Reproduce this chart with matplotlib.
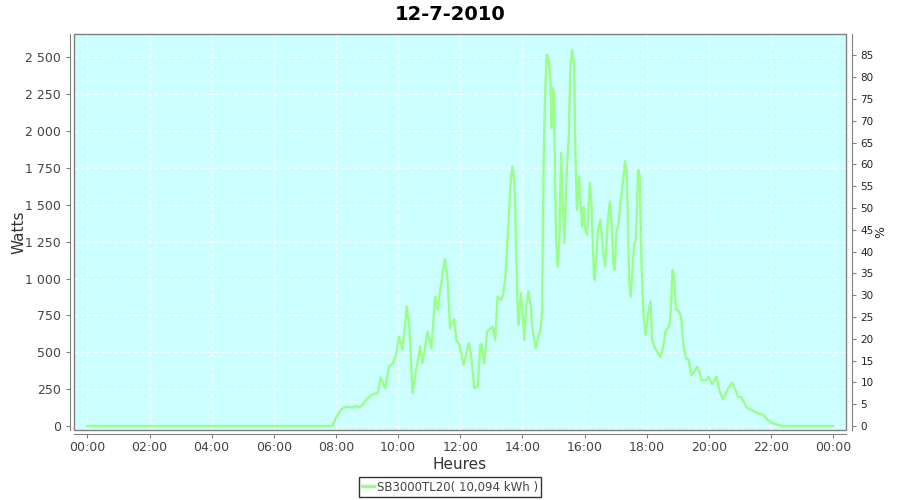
import matplotlib

matplotlib.use("Agg")
import matplotlib.pyplot as plt
from matplotlib.patches import Rectangle

# power curve, time in hours of day, values in watts
hours = [0.0, 7.85, 7.89, 7.99, 8.15, 8.26, 8.42, 8.53, 8.64, 8.74, 8.85, 9.01, 9.18, 9.34,
         9.44, 9.58, 9.71, 9.82, 9.93, 10.03, 10.14, 10.28, 10.36, 10.46, 10.56, 10.71,
         10.78, 10.95, 11.07, 11.19, 11.27, 11.34, 11.50, 11.59, 11.67, 11.80, 11.88,
         11.96, 12.11, 12.27, 12.34, 12.45, 12.56, 12.64, 12.68, 12.77, 12.86, 12.93,
         13.04, 13.12, 13.20, 13.31, 13.38, 13.45, 13.54, 13.63, 13.68, 13.74, 13.79,
         13.85, 13.87, 13.95, 14.01, 14.06, 14.12, 14.19, 14.27, 14.32, 14.43, 14.54,
         14.58, 14.63, 14.68, 14.72, 14.78, 14.84, 14.90, 14.93, 14.95, 14.97, 15.01,
         15.05, 15.08, 15.13, 15.19, 15.24, 15.29, 15.35, 15.42, 15.49, 15.54, 15.60,
         15.66, 15.70, 15.75, 15.82, 15.87, 15.92, 15.97, 16.02, 16.08, 16.17, 16.22,
         16.30, 16.33, 16.43, 16.51, 16.60, 16.66, 16.74, 16.81, 16.87, 16.92, 16.96,
         17.03, 17.08, 17.15, 17.24, 17.30, 17.35, 17.39, 17.43, 17.48, 17.54, 17.59,
         17.65, 17.72, 17.77, 17.83, 17.89, 17.94, 17.97, 18.04, 18.12, 18.17, 18.24,
         18.33, 18.44, 18.53, 18.60, 18.71, 18.76, 18.83, 18.88, 18.94, 19.01, 19.10,
         19.17, 19.26, 19.35, 19.43, 19.50, 19.62, 19.70, 19.76, 19.92, 19.99, 20.10,
         20.24, 20.35, 20.45, 20.62, 20.75, 20.83, 20.94, 21.05, 21.21, 21.37, 21.53,
         21.75, 21.86, 22.02, 22.24, 22.35, 24.0]
watts = [0, 0, 5, 52, 109, 127, 131, 124, 136, 127, 143, 188, 215, 222,
         330, 256, 407, 421, 482, 606, 516, 810, 674, 222, 358, 538,
         426, 640, 527, 878, 787, 901, 1132, 991, 663, 724, 572,
         561, 414, 561, 493, 256, 267, 550, 557, 426, 640, 652,
         674, 584, 878, 855, 889, 1014, 1342, 1692, 1760, 1648, 1263,
         765, 686, 901, 742, 584, 810, 912, 810, 652, 527, 629,
         652, 765, 1783, 2190, 2518, 2490, 2348, 2031, 2020, 2291, 2268,
         1669, 1285, 1081, 1285, 1851, 1557, 1240, 1715, 1963, 2416, 2551,
         2461, 1872, 1465, 1692, 1511, 1352, 1488, 1330, 1296, 1647, 1511,
         1013, 991, 1330, 1398, 1172, 1081, 1375, 1522, 1375, 1104, 1059,
         1330, 1352, 1511, 1669, 1795, 1737, 1421, 991, 878, 1059, 1229,
         1263, 1737, 1700, 1100, 765, 663, 618, 765, 844, 584, 538,
         504, 466, 538, 640, 674, 742, 1059, 1013, 787, 787, 742,
         561, 459, 448, 346, 358, 402, 368, 312, 312, 335, 283,
         335, 233, 181, 256, 294, 256, 199, 195, 127, 109, 90,
         75, 45, 22, 7, 0, 0]

x_ticks = list(range(0, 25, 2))
x_labels = [f"{h % 24:02d}:00" for h in x_ticks]
w_ticks = list(range(0, 2501, 250))
w_labels = [f"{v:,}".replace(",", " ") for v in w_ticks]
pct_ticks = list(range(0, 86, 5))

BG = "#ccffff"
LINE = "#99ff88"
AX = "#808080"
TXT = "#444444"

fig = plt.figure(figsize=(9, 5), dpi=100)
ax = fig.add_axes([74 / 900, 70 / 500, 772 / 900, 396 / 500])
ax.set_facecolor(BG)
ax.plot(hours, watts, color=LINE, lw=1.7, zorder=3)

ax.set_xlim(-0.43, 24.41)
ylo, yhi = -27, 2658
ax.set_ylim(ylo, yhi)
ax.set_xticks(x_ticks, x_labels)
ax.set_yticks(w_ticks, w_labels)
ax.grid(color="white", ls=(0, (3, 3)), lw=0.8)
ax.set_axisbelow(True)

for s in ("top", "right"):
    ax.spines[s].set_visible(False)
for s in ("left", "bottom"):
    ax.spines[s].set_position(("outward", 3))
    ax.spines[s].set_color(AX)
ax.add_patch(Rectangle((0, 0), 1, 1, transform=ax.transAxes, fill=False,
                       ec=AX, lw=1, zorder=5, clip_on=False))
ax.tick_params(colors=AX, labelcolor=TXT, labelsize=9, length=3)
ax.tick_params(axis="x", pad=2)
ax.set_xlabel("Heures", fontsize=11, color="#333333", labelpad=2)
ax.set_ylabel("Watts", fontsize=11, color="#333333", labelpad=-1)

ax2 = ax.twinx()
ax2.set_ylim(ylo / 29.56, yhi / 29.56)
ax2.set_yticks(pct_ticks)
for s in ("top", "left", "bottom"):
    ax2.spines[s].set_visible(False)
ax2.spines["right"].set_position(("outward", 4))
ax2.spines["right"].set_color(AX)
ax2.tick_params(colors=AX, labelcolor="#222222", labelsize=7.5, length=3)
ax2.set_ylabel("%", fontsize=9, color="#222222", labelpad=0)

fig.suptitle("12-7-2010", fontsize=14, fontweight="bold", y=0.99)

leg = fig.legend([plt.Line2D([], [], color=LINE, lw=2.5)],
                 ["SB3000TL20( 10,094 kWh )"], loc="center",
                 bbox_to_anchor=(0.5, 0.026), fontsize=8.5, frameon=True,
                 fancybox=False, edgecolor="black", handlelength=1.0,
                 handletextpad=0.2, borderpad=0.3, borderaxespad=0)
leg.get_frame().set_linewidth(1.0)
for t in leg.get_texts():
    t.set_color(TXT)

fig.savefig("out.png", dpi=100)
